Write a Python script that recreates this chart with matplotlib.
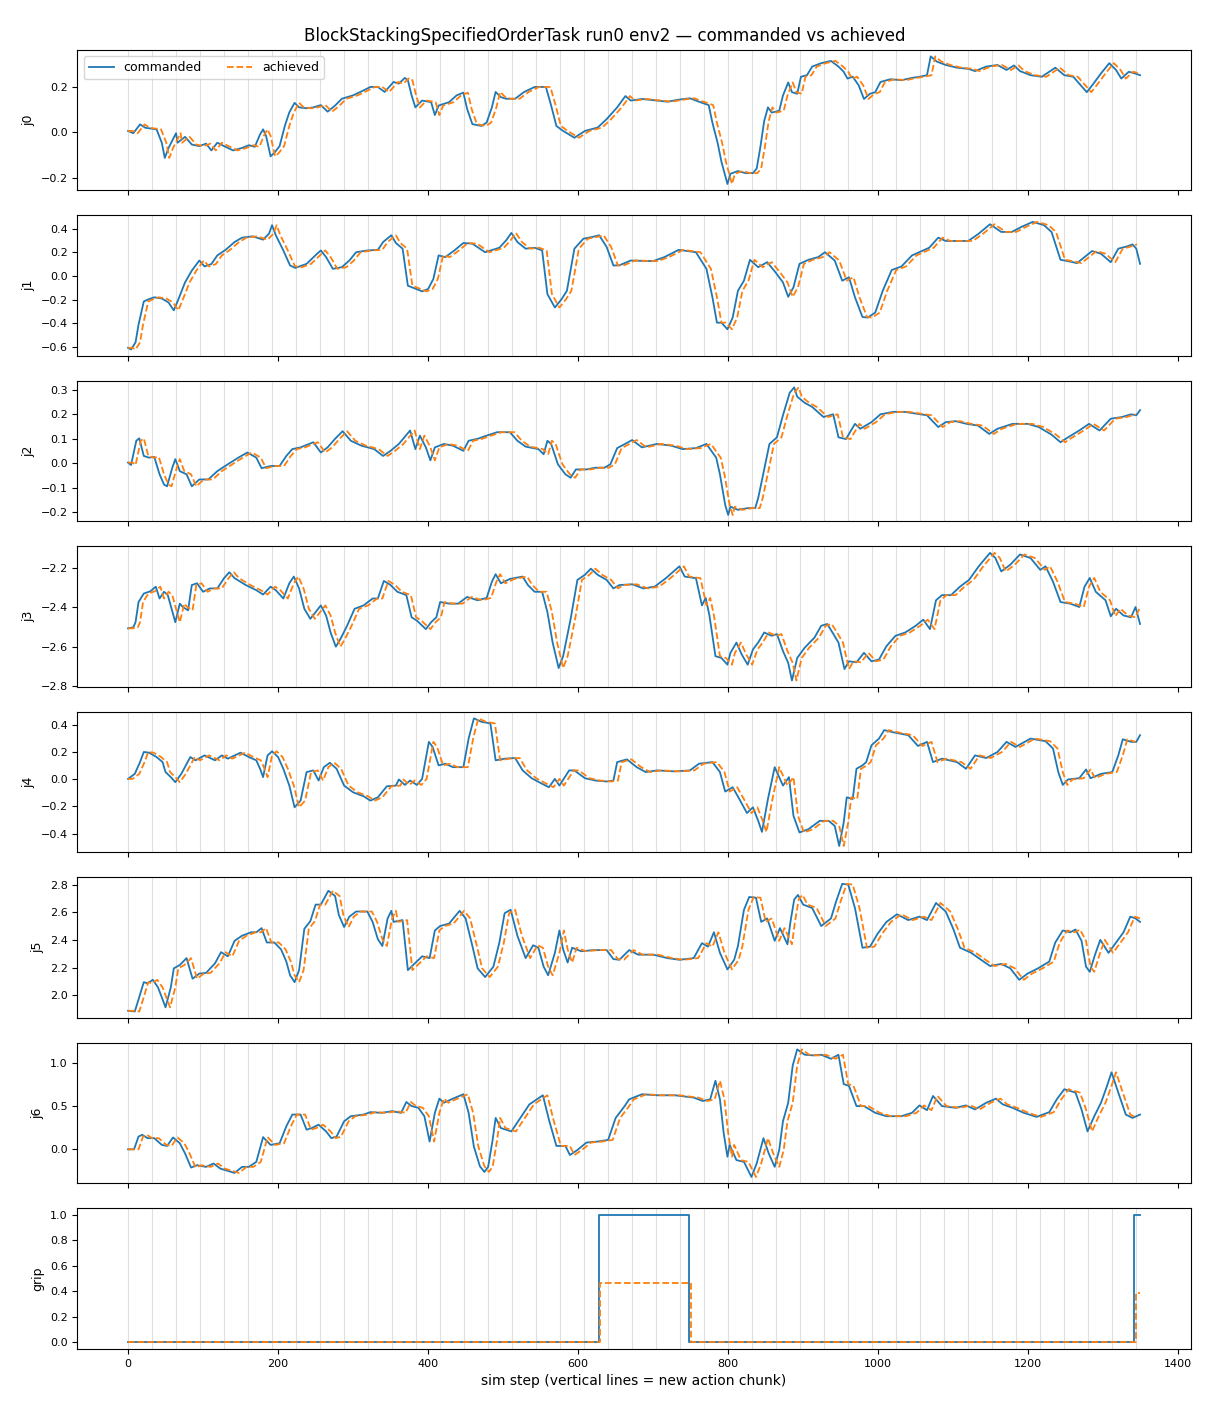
import numpy as np
import matplotlib
matplotlib.use("Agg")
import matplotlib.pyplot as plt

TITLE = "BlockStackingSpecifiedOrderTask run0 env2 \u2014 commanded vs achieved"
N_STEPS = 1350
CHUNK = 32
LAG = 6  # achieved trails the command by a few sim steps

# (sim step, commanded value)
J0 = [(0, .006), (7, -.004), (16, .035), (23, .02), (38, .013), (45, -.046), (49, -.113), (54, -.069), (64, -.004), (66, -.046),
      (76, -.02), (85, -.054), (95, -.061), (104, -.05), (111, -.08), (119, -.046), (128, -.061), (140, -.08), (152, -.069), (161, -.057),
      (169, -.064), (176, -.009), (180, .013), (184, -.016), (190, -.106), (195, -.091), (202, -.061), (209, .028), (215, .088), (222, .13),
      (228, .11), (238, .106), (247, .11), (257, .12), (266, .091), (276, .118), (285, .148), (300, .163), (314, .185), (323, .2),
      (333, .2), (342, .178), (354, .222), (361, .215), (369, .24), (373, .23), (378, .163), (383, .11), (392, .14), (404, .133),
      (409, .076), (414, .118), (428, .133), (438, .163), (447, .175), (452, .103), (459, .036), (471, .028), (478, .043), (485, .11),
      (490, .178), (497, .155), (504, .148), (516, .148), (528, .178), (542, .2), (557, .2), (564, .118), (571, .028), (580, .006),
      (595, -.024), (609, .006), (626, .021), (638, .058), (652, .11), (663, .16), (670, .14), (685, .147), (705, .14), (719, .135),
      (734, .144), (749, .15), (761, .135), (774, .12), (779, .042), (786, -.048), (791, -.13), (799, -.228), (803, -.183), (813, -.171),
      (823, -.18), (833, -.18), (838, -.16), (843, -.063), (848, .05), (853, .11), (858, .087), (868, .095), (873, .162), (880, .22),
      (885, .177), (892, .17), (897, .245), (905, .252), (912, .29), (924, .305), (937, .315), (947, .29), (954, .267), (959, .237),
      (966, .245), (974, .207), (981, .147), (989, .17), (996, .177), (1003, .222), (1016, .234), (1031, .23), (1045, .24), (1055, .245),
      (1065, .252), (1070, .335), (1078, .312), (1090, .297), (1105, .285), (1120, .28), (1129, .27), (1144, .29), (1159, .297), (1171, .275),
      (1181, .295), (1189, .27), (1203, .252), (1218, .245), (1236, .285), (1248, .252), (1260, .245), (1270, .207), (1278, .177), (1287, .215),
      (1297, .26), (1308, .305), (1317, .275), (1324, .237), (1334, .267), (1342, .26), (1349, .252)]

J1 = [(0, -.606), (4, -.62), (7, -.59), (10, -.56), (14, -.41), (21, -.215), (28, -.195), (35, -.18), (45, -.19), (54, -.224),
      (61, -.29), (66, -.215), (76, -.054), (85, .045), (95, .13), (102, .08), (111, .1), (119, .173), (130, .22), (142, .286),
      (152, .323), (166, .334), (180, .306), (188, .357), (192, .428), (197, .343), (207, .215), (216, .088), (223, .068), (238, .102),
      (252, .187), (257, .215), (264, .159), (273, .06), (285, .074), (295, .13), (304, .2), (319, .215), (333, .22), (340, .286),
      (351, .343), (357, .278), (366, .23), (373, -.082), (380, -.1), (392, -.13), (400, -.11), (407, -.025), (414, .173), (423, .159),
      (435, .215), (447, .278), (459, .272), (476, .2), (495, .238), (504, .3), (511, .363), (519, .286), (530, .23), (542, .238),
      (552, .215), (559, -.153), (569, -.266), (578, -.195), (585, -.125), (595, .23), (607, .314), (619, .329), (628, .343), (638, .244),
      (647, .088), (655, .09), (670, .13), (700, .125), (715, .159), (734, .22), (757, .2), (764, .13), (771, .06), (779, -.18),
      (785, -.394), (791, -.394), (799, -.45), (806, -.35), (813, -.125), (821, -.04), (829, .136), (840, .074), (852, .116), (863, .031),
      (873, -.054), (880, -.176), (887, -.096), (895, .102), (907, .136), (920, .159), (929, .2), (942, .13), (952, -.04), (961, -.011),
      (969, -.18), (979, -.346), (986, -.351), (996, -.309), (1006, -.125), (1018, .05), (1031, .08), (1045, .173), (1060, .215), (1068, .238),
      (1080, .323), (1090, .295), (1105, .295), (1120, .295), (1134, .357), (1149, .436), (1164, .371), (1178, .371), (1191, .414), (1206, .456),
      (1221, .428), (1231, .371), (1243, .136), (1253, .125), (1265, .108), (1275, .159), (1285, .21), (1297, .187), (1310, .116), (1320, .23),
      (1332, .25), (1339, .266), (1344, .23), (1349, .102)]

J2 = [(0, .003), (4, -.007), (11, .092), (15, .102), (21, .03), (28, .023), (35, .026), (42, -.045), (48, -.087), (52, -.094),
      (59, -.018), (63, .017), (69, -.032), (78, -.045), (85, -.094), (95, -.066), (107, -.066), (119, -.032), (133, -.004), (147, .023),
      (159, .044), (171, .023), (178, -.02), (190, -.011), (202, -.011), (211, .03), (219, .058), (230, .065), (247, .086), (257, .044),
      (266, .065), (276, .1), (286, .131), (297, .092), (311, .072), (328, .058), (340, .03), (350, .051), (361, .079), (376, .134),
      (383, .058), (389, .113), (397, .065), (403, .012), (409, .065), (421, .079), (433, .072), (447, .051), (454, .092), (466, .1),
      (478, .113), (492, .127), (509, .127), (519, .092), (530, .068), (547, .058), (554, .037), (559, .092), (564, .079), (573, -.004),
      (583, -.045), (590, -.059), (597, -.025), (611, -.025), (623, -.018), (635, -.018), (643, -.004), (652, .062), (660, .075), (672, .095),
      (685, .065), (705, .079), (724, .072), (739, .058), (757, .062), (771, .079), (784, .023), (789, -.045), (796, -.17), (800, -.211),
      (803, -.177), (813, -.19), (826, -.183), (836, -.183), (840, -.142), (848, -.025), (855, .079), (865, .106), (873, .196), (882, .288),
      (888, .31), (892, .272), (902, .247), (912, .23), (927, .189), (940, .2), (947, .106), (957, .099), (969, .161), (976, .141),
      (991, .168), (1003, .2), (1020, .21), (1035, .21), (1050, .203), (1065, .196), (1080, .148), (1090, .168), (1103, .172), (1118, .161),
      (1133, .154), (1148, .12), (1159, .141), (1179, .161), (1199, .161), (1214, .148), (1231, .117), (1243, .086), (1253, .106), (1268, .134),
      (1281, .161), (1295, .134), (1310, .182), (1325, .189), (1337, .2), (1344, .196), (1349, .217)]

J3 = [(0, -2.506), (7, -2.501), (10, -2.475), (14, -2.373), (21, -2.33), (30, -2.318), (37, -2.295), (42, -2.355), (48, -2.321), (53, -2.338),
      (58, -2.407), (63, -2.475), (69, -2.381), (73, -2.398), (80, -2.415), (85, -2.287), (92, -2.278), (100, -2.321), (109, -2.304), (119, -2.304),
      (128, -2.252), (135, -2.222), (142, -2.252), (157, -2.287), (171, -2.313), (180, -2.335), (190, -2.295), (197, -2.313), (207, -2.355), (215, -2.278),
      (221, -2.244), (228, -2.304), (235, -2.407), (243, -2.458), (250, -2.424), (257, -2.39), (264, -2.441), (270, -2.527), (277, -2.599), (283, -2.561),
      (292, -2.493), (302, -2.407), (314, -2.39), (326, -2.355), (333, -2.355), (341, -2.266), (350, -2.287), (359, -2.321), (371, -2.338), (378, -2.45),
      (385, -2.467), (397, -2.51), (404, -2.475), (411, -2.45), (416, -2.373), (428, -2.381), (440, -2.381), (452, -2.347), (466, -2.364), (478, -2.352),
      (485, -2.27), (490, -2.232), (497, -2.278), (509, -2.256), (526, -2.244), (533, -2.287), (542, -2.321), (552, -2.321), (559, -2.424), (566, -2.578),
      (574, -2.707), (580, -2.647), (590, -2.458), (599, -2.261), (609, -2.235), (617, -2.204), (626, -2.235), (638, -2.261), (647, -2.304), (655, -2.287),
      (672, -2.283), (687, -2.304), (702, -2.295), (717, -2.252), (735, -2.192), (742, -2.244), (757, -2.252), (761, -2.321), (765, -2.39), (770, -2.352),
      (775, -2.441), (783, -2.647), (791, -2.656), (799, -2.69), (803, -2.63), (811, -2.578), (818, -2.638), (826, -2.69), (833, -2.613), (840, -2.578),
      (848, -2.527), (858, -2.544), (865, -2.535), (873, -2.621), (880, -2.681), (885, -2.77), (892, -2.656), (902, -2.604), (915, -2.553), (924, -2.493),
      (932, -2.484), (939, -2.527), (947, -2.578), (955, -2.712), (961, -2.673), (971, -2.678), (981, -2.63), (991, -2.673), (1001, -2.664), (1011, -2.596),
      (1023, -2.544), (1036, -2.527), (1050, -2.493), (1060, -2.462), (1069, -2.51), (1077, -2.364), (1085, -2.338), (1097, -2.338), (1109, -2.295), (1121, -2.261),
      (1134, -2.192), (1149, -2.124), (1156, -2.149), (1164, -2.218), (1176, -2.184), (1189, -2.132), (1203, -2.15), (1216, -2.21), (1223, -2.192), (1233, -2.27),
      (1243, -2.373), (1256, -2.381), (1268, -2.398), (1275, -2.295), (1282, -2.251), (1290, -2.321), (1303, -2.364), (1310, -2.445), (1317, -2.407), (1327, -2.441),
      (1337, -2.45), (1343, -2.398), (1349, -2.484)]

J4 = [(0, .002), (9, .039), (16, .125), (21, .199), (28, .194), (38, .162), (46, .125), (50, .052), (57, .015), (63, -.022),
      (71, .039), (83, .162), (90, .138), (102, .174), (116, .138), (125, .174), (133, .15), (150, .194), (161, .162), (171, .138),
      (176, .076), (180, .015), (186, .174), (192, .204), (200, .162), (207, .076), (215, -.047), (222, -.206), (230, -.157), (238, .052),
      (247, .064), (254, -.01), (261, .088), (269, .12), (278, .076), (288, -.047), (300, -.096), (314, -.125), (323, -.157), (333, -.133),
      (345, -.052), (357, -.047), (361, -.002), (369, -.042), (376, -.01), (385, -.042), (392, .002), (401, .273), (406, .236), (414, .101),
      (423, .113), (433, .088), (447, .088), (454, .297), (461, .445), (471, .42), (483, .408), (490, .138), (502, .15), (516, .155),
      (526, .064), (538, .007), (552, -.034), (561, -.059), (569, .002), (575, -.047), (588, .064), (595, .064), (609, .007), (623, -.01),
      (638, -.017), (647, -.01), (652, .125), (665, .145), (678, .088), (690, .052), (705, .064), (729, .057), (749, .064), (761, .113),
      (779, .125), (789, .052), (796, -.091), (806, -.059), (816, -.157), (825, -.248), (833, -.206), (840, -.305), (845, -.386), (853, -.145),
      (862, .088), (873, -.047), (881, .015), (887, -.268), (895, -.39), (907, -.366), (922, -.305), (934, -.305), (942, -.342), (948, -.489),
      (954, -.317), (958, -.133), (966, -.145), (971, .076), (979, .101), (984, .125), (991, .248), (1001, .297), (1008, .359), (1021, .342),
      (1040, .322), (1053, .243), (1065, .273), (1073, .125), (1085, .15), (1105, .125), (1117, .076), (1129, .174), (1144, .155), (1159, .199),
      (1171, .273), (1183, .236), (1203, .297), (1223, .278), (1233, .224), (1240, .052), (1246, -.042), (1253, -.002), (1268, .007), (1277, .071),
      (1283, .007), (1297, .039), (1312, .052), (1320, .174), (1326, .292), (1337, .273), (1344, .273), (1349, .322)]

J5 = [(0, 1.889), (9, 1.884), (14, 1.971), (21, 2.096), (26, 2.088), (33, 2.113), (40, 2.058), (46, 1.971), (50, 1.914), (57, 2.058),
      (61, 2.196), (69, 2.22), (78, 2.27), (86, 2.121), (95, 2.158), (104, 2.163), (116, 2.233), (124, 2.313), (133, 2.283), (142, 2.395),
      (152, 2.432), (164, 2.457), (171, 2.457), (178, 2.487), (185, 2.383), (195, 2.383), (204, 2.333), (211, 2.245), (216, 2.146), (222, 2.096),
      (228, 2.183), (235, 2.482), (243, 2.537), (250, 2.657), (257, 2.657), (262, 2.707), (267, 2.757), (276, 2.719), (281, 2.582), (288, 2.495),
      (295, 2.57), (304, 2.607), (319, 2.607), (326, 2.532), (333, 2.407), (339, 2.358), (346, 2.557), (351, 2.612), (354, 2.532), (366, 2.545),
      (373, 2.183), (380, 2.22), (392, 2.283), (402, 2.27), (409, 2.47), (416, 2.502), (428, 2.52), (442, 2.612), (450, 2.557), (459, 2.358),
      (466, 2.196), (476, 2.133), (487, 2.208), (495, 2.383), (502, 2.595), (510, 2.62), (519, 2.432), (530, 2.27), (540, 2.363), (547, 2.345),
      (554, 2.208), (560, 2.146), (569, 2.308), (575, 2.47), (580, 2.333), (586, 2.238), (592, 2.345), (604, 2.32), (621, 2.328), (638, 2.328),
      (647, 2.263), (655, 2.258), (668, 2.328), (680, 2.295), (700, 2.295), (719, 2.27), (735, 2.258), (754, 2.27), (765, 2.378), (773, 2.353),
      (781, 2.457), (789, 2.308), (799, 2.188), (808, 2.258), (813, 2.358), (821, 2.619), (828, 2.712), (837, 2.707), (844, 2.532), (852, 2.557),
      (862, 2.395), (869, 2.487), (879, 2.37), (883, 2.532), (888, 2.694), (893, 2.727), (900, 2.657), (912, 2.632), (924, 2.502), (937, 2.557),
      (944, 2.682), (952, 2.807), (960, 2.802), (969, 2.632), (979, 2.345), (989, 2.353), (999, 2.445), (1011, 2.532), (1025, 2.587), (1040, 2.545),
      (1055, 2.57), (1065, 2.545), (1077, 2.669), (1090, 2.607), (1100, 2.482), (1109, 2.345), (1124, 2.308), (1137, 2.258), (1149, 2.213), (1164, 2.228),
      (1176, 2.196), (1188, 2.113), (1199, 2.158), (1213, 2.196), (1228, 2.245), (1236, 2.383), (1246, 2.47), (1256, 2.457), (1263, 2.477), (1271, 2.395),
      (1277, 2.208), (1282, 2.171), (1289, 2.295), (1296, 2.402), (1307, 2.308), (1317, 2.383), (1327, 2.457), (1336, 2.57), (1343, 2.557), (1349, 2.532)]

J6 = [(0, 0.0), (8, 0.0), (14, .148), (19, .168), (26, .129), (35, .129), (45, .051), (52, .039), (60, .137), (69, .07),
      (76, -.047), (84, -.211), (92, -.184), (104, -.203), (114, -.164), (123, -.223), (133, -.25), (142, -.273), (152, -.203), (161, -.203),
      (171, -.145), (180, .141), (190, .051), (202, .07), (211, .266), (219, .402), (230, .402), (238, .227), (245, .246), (254, .285),
      (264, .207), (271, .129), (278, .148), (288, .324), (297, .383), (314, .402), (323, .43), (338, .422), (352, .441), (364, .422),
      (371, .547), (378, .5), (387, .48), (395, .383), (402, .09), (409, .422), (415, .586), (421, .539), (433, .586), (447, .637),
      (454, .422), (461, .031), (469, -.195), (475, -.262), (480, -.203), (486, .109), (490, .363), (497, .246), (511, .207), (523, .363),
      (535, .52), (545, .578), (553, .625), (561, .344), (571, .039), (583, .039), (589, -.066), (599, -.008), (611, .078), (626, .09),
      (640, .109), (650, .363), (662, .5), (668, .578), (685, .637), (705, .625), (729, .625), (754, .598), (766, .559), (776, .578),
      (783, .793), (789, .578), (794, .188), (799, -.086), (802, .051), (811, -.125), (821, -.145), (831, -.32), (838, -.164), (847, .129),
      (854, -.047), (862, -.203), (868, -.008), (873, .324), (880, .539), (886, .969), (892, 1.156), (902, 1.094), (914, 1.086), (924, 1.094),
      (937, 1.047), (947, 1.094), (954, .754), (961, .734), (971, .5), (981, .5), (996, .422), (1011, .383), (1031, .383), (1045, .422),
      (1055, .508), (1065, .453), (1073, .617), (1085, .5), (1103, .48), (1117, .508), (1129, .461), (1144, .539), (1157, .586), (1166, .52),
      (1179, .48), (1194, .422), (1211, .375), (1228, .43), (1238, .578), (1248, .695), (1263, .656), (1271, .461), (1279, .207), (1288, .383),
      (1297, .539), (1305, .734), (1311, .891), (1320, .656), (1330, .402), (1339, .363), (1349, .402)]

JOINTS = {"j0": J0, "j1": J1, "j2": J2, "j3": J3, "j4": J4, "j5": J5, "j6": J6}

# gripper: step-wise, read at the jump positions
GRIP_CMD_STEPS = [0, 628, 628, 748, 748, 1341, 1341, 1349]
GRIP_CMD = [0, 0, 1.0, 1.0, 0, 0, 1.0, 1.0]
GRIP_ACH_STEPS = [0, 629, 629, 750, 750, 1343, 1343, 1349]
GRIP_ACH = [0, 0, 0.47, 0.47, 0, 0, 0.39, 0.39]


fig, axes = plt.subplots(8, 1, figsize=(12.1, 14.08), dpi=100, sharex=True)
fig.subplots_adjust(left=0.064, right=0.984, top=0.9645, bottom=0.042, hspace=0.179)

chunk_starts = np.arange(0, N_STEPS, CHUNK)

for ax, (name, pts) in zip(axes[:7], JOINTS.items()):
    steps = np.array([p[0] for p in pts])
    vals = np.array([p[1] for p in pts])
    for c in chunk_starts:
        ax.axvline(c, color="gray", alpha=0.25, lw=0.8, zorder=0)
    ax.plot(steps, vals, color="C0", lw=1.3, label="commanded")
    # achieved = same trajectory, delayed by LAG steps
    keep = steps + LAG <= N_STEPS - 1
    ach_x = np.concatenate([[0], steps[keep] + LAG])
    ach_y = np.concatenate([[vals[0]], vals[keep]])
    ax.plot(ach_x, ach_y, color="C1", lw=1.3, ls="--", label="achieved")
    ax.set_ylabel(name, fontsize=9)
    ax.tick_params(labelsize=8)

ax = axes[7]
for c in chunk_starts:
    ax.axvline(c, color="gray", alpha=0.25, lw=0.8, zorder=0)
ax.plot(GRIP_CMD_STEPS, GRIP_CMD, color="C0", lw=1.3)
ax.plot(GRIP_ACH_STEPS, GRIP_ACH, color="C1", lw=1.3, ls="--")
ax.set_ylabel("grip", fontsize=9)
ax.tick_params(labelsize=8)
ax.set_xlabel("sim step (vertical lines = new action chunk)", fontsize=10)

axes[0].legend(loc="upper left", ncol=2, fontsize=9)
fig.suptitle(TITLE, fontsize=12, y=0.981)

fig.savefig("out.png", dpi=100)
